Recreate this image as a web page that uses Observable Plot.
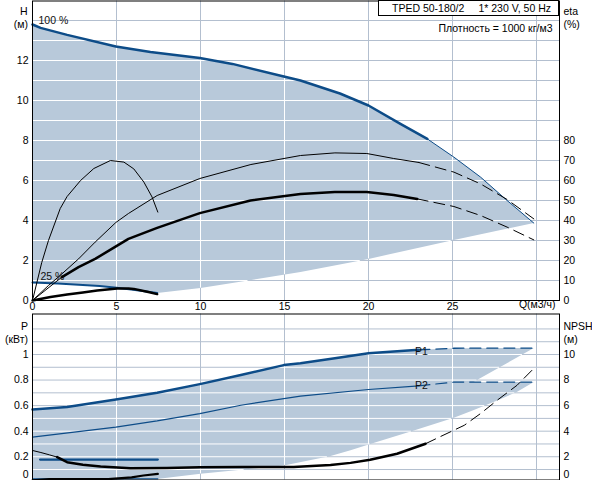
<!DOCTYPE html>
<html>
<head>
<meta charset="utf-8">
<script src="https://cdn.jsdelivr.net/npm/d3@7"></script>
<script src="https://cdn.jsdelivr.net/npm/@observablehq/plot@0.6"></script>
<style>
  body { margin: 0; background: #fff; font-family: "Liberation Sans", Arial, sans-serif; }
  #wrap { position: relative; width: 592px; height: 480px; overflow: hidden; background: #fff; }
  #top, #bot { position: absolute; left: 0; }
  #top { top: 0; }
  #bot { top: 311px; }
  #wrap svg { font-family: "Liberation Sans", Arial, sans-serif; font-size: 10.5px; color: #000; }
  #legend { position: absolute; left: 378px; top: 0; width: 181px; height: 16px; box-sizing: border-box;
            border: 1px solid #000; background: #fff; font-size: 10.5px; line-height: 14px; color: #000; }
  #legend span { position: absolute; top: 0; white-space: pre; }
</style>
</head>
<body>
<div id="wrap">
  <div id="top"></div>
  <div id="bot"></div>
  <div id="legend"><span style="left:13px">TPED 50-180/2</span><span style="right:7px">1* 230 V, 50 Hz</span></div>
</div>
<script>
// ---------------- DATA ----------------
// Top chart: Q (m3/h) vs H (m) and eta (%)
const qH100    = [0, 0.48, 2.06, 4.96, 7.02, 9.96, 11.9, 14.96, 15.95, 18.3, 20, 21.9, 23.5];
const hH100    = [13.8, 13.63, 13.28, 12.7, 12.42, 12.12, 11.83, 11.2, 11.0, 10.35, 9.75, 8.83, 8.08];
const qH100Ext = [23.5, 25.08, 26.67, 28.25, 29.84];
const hH100Ext = [8.08, 7.17, 6.17, 5.0, 3.87];

const qH25 = [0, 1.5, 3.0, 4.0, 5.0, 6.0, 7.42];
const hH25 = [0.9, 0.85, 0.78, 0.72, 0.64, 0.54, 0.37];

const qHmin = [7.42, 10, 15.95, 20, 25.08, 29.84];
const hHmin = [0.37, 0.62, 1.42, 2.08, 3.03, 3.87];

const qEta25 = [0, 0.55, 0.95, 1.65, 2.06, 2.86, 3.65, 4.64, 5.44, 6.03, 6.63, 7.12, 7.46];
const eta25  = [0, 19, 30, 46, 52, 60, 66, 70, 69.2, 65.8, 59.2, 51.7, 44.2];

const qEta100    = [0, 0.95, 1.75, 2.74, 3.73, 4.96, 5.71, 7.42, 9.96, 13, 15.95, 18, 19.9, 21.5, 23];
const eta100     = [0, 7.5, 13.3, 20.8, 29.2, 39, 43.5, 52.5, 61, 68, 72.5, 73.8, 73.5, 71, 69];
const qEta100Ext = [23, 25.08, 26.67, 28.25, 29.84];
const eta100Ext  = [69, 64.2, 58.3, 50.5, 40.8];

const qEtaTStart = [0, 1.75];
const etaTStart  = [0, 11.7];
const qEtaT      = [1.75, 2.74, 3.73, 4.72, 5.71, 7.42, 9.96, 12.98, 15.95, 18, 19.9, 21.5, 22.9];
const etaT       = [11.7, 16.7, 20.8, 25.8, 30.8, 36.3, 43.7, 50, 53.3, 54.3, 54.2, 52.8, 50.8];
const qEtaTExt   = [22.9, 25.08, 26.67, 28.25, 29.84];
const etaTExt    = [50.8, 47, 42.5, 36.7, 30.3];

const qEtaT25 = [0, 1.07, 2.06, 3.0, 3.85, 5.04, 5.71, 6.03, 6.83, 7.42];
const etaT25  = [0, 1.8, 3.0, 4.0, 5.0, 6.0, 6.0, 5.8, 4.4, 3.2];

// Bottom chart: Q vs P (kW) and NPSH (m)
const qP1    = [0, 2.06, 4.96, 7.42, 9.96, 12.4, 14.96, 15.95, 18, 20, 23];
const p1     = [0.569, 0.59, 0.648, 0.70, 0.768, 0.839, 0.917, 0.931, 0.97, 1.009, 1.037];
const qP1Ext = [23, 25.08, 27.5, 29.84];
const p1Ext  = [1.037, 1.049, 1.05, 1.05];
const qP2    = [0, 4.96, 7.42, 9.96, 12.4, 15.95, 20, 23];
const p2     = [0.354, 0.432, 0.48, 0.538, 0.603, 0.674, 0.726, 0.755];
const qP2Ext = [23, 25.08, 27.5, 29.84];
const p2Ext  = [0.755, 0.784, 0.784, 0.784];

const qP1min = [0.45, 7.46];
const p1min  = [0.178, 0.178];
const qP2min = [0, 7.46];
const p2min  = [0.027, 0.027];

// lower edges of the shaded operating ranges (P1 band, P2 band)
const qP1low = [29.84, 28.05, 26.27, 24, 20, 15, 7.46, 0];
const p1low  = [1.05, 0.918, 0.786, 0.62, 0.45, 0.32, 0.178, 0.178];
const qP2low = [29.84, 28.85, 27.66, 26.27, 25.08, 22.7, 20.1, 18.93, 17.74, 14.96, 10, 7.52, 0];
const p2low  = [0.784, 0.708, 0.64, 0.565, 0.506, 0.406, 0.3, 0.25, 0.205, 0.131, 0.066, 0.027, 0.022];

const qNpsh0   = [0, 0.5, 1.0, 1.47];
const npsh0    = [2.49, 2.33, 2.15, 1.97];
const qNpsh    = [1.47, 2.06, 3.0, 4.05, 5.83, 8, 9.96, 12.5, 15.55, 16.9, 17.74, 18.93, 20.1, 21.7, 23.4];
const npsh     = [1.97, 1.57, 1.38, 1.23, 1.1, 1.12, 1.18, 1.2, 1.2, 1.3, 1.35, 1.52, 1.76, 2.23, 3.02];
const qNpshExt = [23.4, 24.3, 25.7, 26.67, 27.66, 28.85, 29.74];
const npshExt  = [3.02, 3.59, 4.46, 5.38, 6.42, 7.6, 8.78];
const qNpsh25  = [0, 1, 4.5, 5.3, 5.9, 6.6, 7.46];
const npsh25   = [0.15, 0.25, 0.25, 0.32, 0.39, 0.53, 0.66];

// ticks / grid
const xGrid = [5, 10, 15, 20, 25, 30];
const xTicks = [0, 5, 10, 15, 20, 25];
const hGrid = [1,2,3,4,5,6,7,8,9,10,11,12,13,14];
const hTicks = [0, 2, 4, 6, 8, 10, 12];
const etaTicks = [0, 10, 20, 30, 40, 50, 60, 70, 80];
const pGrid = [0.1,0.2,0.3,0.4,0.5,0.6,0.7,0.8,0.9,1.0,1.1,1.2];
const pTicks = [0.2, 0.4, 0.6, 0.8, 1];
const npshTicks = [2, 4, 6, 8, 10];

// ---------------- STYLE ----------------
const BLUE = "#0d4c88", FILL = "#b8c9da", GRID = "#b3bfcf", WGRID = "#ffffff", INK = "#000";
const DASH = "11,6";
const pts = (qs, vs, k = 1) => qs.map((q, i) => ({q, v: vs[i] / k}));
const poly = (qa, va, qb, vb) => pts(qa, va).concat(pts(qb, vb));
const X = {domain: [0, 30], range: [32, 536]};

// Parts of a grid line lying inside the union of the shaded polygons (white grid on the fill)
function insideParts(polys, dir, value) {
  const iv = [];
  for (const P of polys) {
    const xs = [];
    for (let i = 0; i < P.length; i++) {
      const A = P[i], B = P[(i + 1) % P.length];
      if (dir === "h") {
        if ((A.v <= value) !== (B.v <= value)) xs.push(A.q + (value - A.v) * (B.q - A.q) / (B.v - A.v));
      } else {
        if ((A.q <= value) !== (B.q <= value)) xs.push(A.v + (value - A.q) * (B.v - A.v) / (B.q - A.q));
      }
    }
    xs.sort((a, b) => a - b);
    for (let i = 0; i + 1 < xs.length; i += 2) iv.push([xs[i], xs[i + 1]]);
  }
  iv.sort((a, b) => a[0] - b[0]);
  const out = [];
  for (const s of iv) {
    const last = out[out.length - 1];
    if (last && s[0] <= last[1]) last[1] = Math.max(last[1], s[1]); else out.push(s.slice());
  }
  return out.map(([a, b]) => ({c: value, a, b}));
}
const whiteH = (polys, vals) => vals.flatMap(v => insideParts(polys, "h", v));
const whiteV = (polys, vals) => vals.flatMap(q => insideParts(polys, "v", q));

// ---------------- TOP CHART ----------------
const topPoly = poly(qH100.concat(qH100Ext.slice(1)), hH100.concat(hH100Ext.slice(1)),
                     qHmin.slice().reverse(), hHmin.slice().reverse())
                .concat(pts(qH25.slice().reverse(), hH25.slice().reverse()));

const topPlot = Plot.plot({
  width: 592, height: 311,
  marginLeft: 32, marginRight: 33, marginTop: 0.5, marginBottom: 11,
  x: X,
  y: {domain: [0, 15], range: [300, 0]},
  marks: [
    Plot.ruleY(hGrid, {stroke: GRID, strokeWidth: 1}),
    Plot.ruleX(xGrid, {stroke: GRID, strokeWidth: 1}),
    Plot.line(topPoly, {x: "q", y: "v", fill: FILL, stroke: "none"}),
    Plot.ruleY(whiteH([topPoly], hGrid), {y: "c", x1: "a", x2: "b", stroke: WGRID, strokeWidth: 1}),
    Plot.ruleX(whiteV([topPoly], xGrid), {x: "c", y1: "a", y2: "b", stroke: WGRID, strokeWidth: 1}),
    // head curves
    Plot.line(pts(qH100, hH100), {x: "q", y: "v", stroke: BLUE, strokeWidth: 2.5}),
    Plot.line(pts(qH100Ext, hH100Ext), {x: "q", y: "v", stroke: BLUE, strokeWidth: 1}),
    Plot.line(pts(qH25, hH25), {x: "q", y: "v", stroke: BLUE, strokeWidth: 2}),
    // efficiency curves (eta / 10 on the H scale)
    Plot.line(pts(qEta25, eta25, 10), {x: "q", y: "v", stroke: INK, strokeWidth: 1}),
    Plot.line(pts(qEta100, eta100, 10), {x: "q", y: "v", stroke: INK, strokeWidth: 1}),
    Plot.line(pts(qEta100Ext, eta100Ext, 10), {x: "q", y: "v", stroke: INK, strokeWidth: 1, strokeDasharray: DASH}),
    Plot.line(pts(qEtaTStart, etaTStart, 10), {x: "q", y: "v", stroke: INK, strokeWidth: 1}),
    Plot.line(pts(qEtaT, etaT, 10), {x: "q", y: "v", stroke: INK, strokeWidth: 2.5}),
    Plot.line(pts(qEtaTExt, etaTExt, 10), {x: "q", y: "v", stroke: INK, strokeWidth: 1, strokeDasharray: DASH}),
    Plot.line(pts(qEtaT25, etaT25, 10), {x: "q", y: "v", stroke: INK, strokeWidth: 2.5}),
    Plot.frame({stroke: "#000"}),
    Plot.axisY({ticks: hTicks, tickSize: 0, tickPadding: 4, label: null, tickFormat: d => String(d)}),
    Plot.axisY({anchor: "right", ticks: etaTicks.map(d => d / 10), tickSize: 0, tickPadding: 4, label: null, tickFormat: d => String(Math.round(d * 10))}),
    Plot.axisX({ticks: xTicks, tickSize: 0, tickPadding: 2, label: null, tickFormat: d => String(d)}),
    Plot.text(["H"], {frameAnchor: "top-left", dx: -5, dy: 6.5, textAnchor: "end", text: d => d, fill: INK}),
    Plot.text(["(м)"], {frameAnchor: "top-left", dx: -4.5, dy: 19.5, textAnchor: "end", text: d => d, fill: INK}),
    Plot.text(["eta"], {frameAnchor: "top-right", dx: 4, dy: 6.5, textAnchor: "start", text: d => d, fill: INK}),
    Plot.text(["(%)"], {frameAnchor: "top-right", dx: 4, dy: 19.5, textAnchor: "start", text: d => d, fill: INK}),
    Plot.text(["Плотность = 1000 кг/м3"], {frameAnchor: "top-right", dx: -7, dy: 23.5, textAnchor: "end", text: d => d, fill: INK}),
    Plot.text(["Q(м3/ч)"], {frameAnchor: "bottom-right", dx: -4, dy: 7, textAnchor: "end", text: d => d, fill: INK}),
    Plot.text([pts(qH100, hH100)[0]], {x: "q", y: "v", text: () => "100 %", dx: 6, dy: -4.3, textAnchor: "start", fill: "#111"}),
    Plot.text([pts(qH25, hH25)[0]], {x: "q", y: "v", text: () => "25 %", dx: 8, dy: -5.5, textAnchor: "start", fill: "#111"})
  ]
});
document.getElementById("top").appendChild(topPlot);

// ---------------- BOTTOM CHART ----------------
const polyA = poly(qP1.concat(qP1Ext.slice(1)), p1.concat(p1Ext.slice(1)), qP1low, p1low);
const polyB = poly(qP2.concat(qP2Ext.slice(1)), p2.concat(p2Ext.slice(1)), qP2low, p2low);

const botPlot = Plot.plot({
  width: 592, height: 169,
  marginLeft: 32, marginRight: 33, marginTop: 2.5, marginBottom: 0.5,
  x: {...X, axis: null},
  y: {domain: [0, 1], range: [170.8, 43]},
  marks: [
    Plot.ruleY(pGrid, {stroke: GRID, strokeWidth: 1}),
    Plot.ruleX(xGrid, {stroke: GRID, strokeWidth: 1}),
    Plot.line(polyA, {x: "q", y: "v", fill: FILL, stroke: "none"}),
    Plot.line(polyB, {x: "q", y: "v", fill: FILL, stroke: "none"}),
    Plot.ruleY(whiteH([polyA, polyB], pGrid), {y: "c", x1: "a", x2: "b", stroke: WGRID, strokeWidth: 1}),
    Plot.ruleX(whiteV([polyA, polyB], xGrid), {x: "c", y1: "a", y2: "b", stroke: WGRID, strokeWidth: 1}),
    // power curves
    Plot.line(pts(qP1, p1), {x: "q", y: "v", stroke: BLUE, strokeWidth: 2.5}),
    Plot.line(pts(qP1Ext, p1Ext), {x: "q", y: "v", stroke: BLUE, strokeWidth: 1.3, strokeDasharray: DASH}),
    Plot.line(pts(qP2, p2), {x: "q", y: "v", stroke: BLUE, strokeWidth: 1.2}),
    Plot.line(pts(qP2Ext, p2Ext), {x: "q", y: "v", stroke: BLUE, strokeWidth: 1.2, strokeDasharray: DASH}),
    Plot.line(pts(qP1min, p1min), {x: "q", y: "v", stroke: BLUE, strokeWidth: 2.2}),
    Plot.line(pts(qP2min, p2min), {x: "q", y: "v", stroke: BLUE, strokeWidth: 1.2}),
    // NPSH curves (NPSH / 10 on the P scale)
    Plot.line(pts(qNpsh0, npsh0, 10), {x: "q", y: "v", stroke: INK, strokeWidth: 1}),
    Plot.line(pts(qNpsh, npsh, 10), {x: "q", y: "v", stroke: INK, strokeWidth: 2.5}),
    Plot.line(pts(qNpshExt, npshExt, 10), {x: "q", y: "v", stroke: INK, strokeWidth: 1, strokeDasharray: DASH}),
    Plot.line(pts(qNpsh25, npsh25, 10), {x: "q", y: "v", stroke: INK, strokeWidth: 2.2}),
    Plot.frame({stroke: "#000"}),
    Plot.axisY({ticks: pTicks, tickSize: 0, tickPadding: 4, label: null, tickFormat: d => String(d)}),
    Plot.axisY({anchor: "right", ticks: npshTicks.map(d => d / 10), tickSize: 0, tickPadding: 4, label: null, tickFormat: d => String(Math.round(d * 10))}),
    Plot.text([0], {y: d => d, text: () => "0", frameAnchor: "left", dx: -4, dy: -7.8, textAnchor: "end", fill: INK}),
    Plot.text([0], {y: d => d, text: () => "0", frameAnchor: "right", dx: 4, dy: -7.8, textAnchor: "start", fill: INK}),
    Plot.text(["P"], {frameAnchor: "top-left", dx: -4.5, dy: 8.2, textAnchor: "end", text: d => d, fill: INK}),
    Plot.text(["(кВт)"], {frameAnchor: "top-left", dx: -4.5, dy: 21.5, textAnchor: "end", text: d => d, fill: INK}),
    Plot.text(["NPSH"], {frameAnchor: "top-right", dx: 4, dy: 8.2, textAnchor: "start", text: d => d, fill: INK}),
    Plot.text(["(м)"], {frameAnchor: "top-right", dx: 4, dy: 21.5, textAnchor: "start", text: d => d, fill: INK}),
    Plot.text([pts(qP1, p1)[qP1.length - 1]], {x: "q", y: "v", text: () => "P1", dx: -4, dy: 2, textAnchor: "start", fill: "#111"}),
    Plot.text([pts(qP2, p2)[qP2.length - 1]], {x: "q", y: "v", text: () => "P2", dx: -4, dy: 0, textAnchor: "start", fill: "#111"})
  ]
});
document.getElementById("bot").appendChild(botPlot);
</script>
</body>
</html>
